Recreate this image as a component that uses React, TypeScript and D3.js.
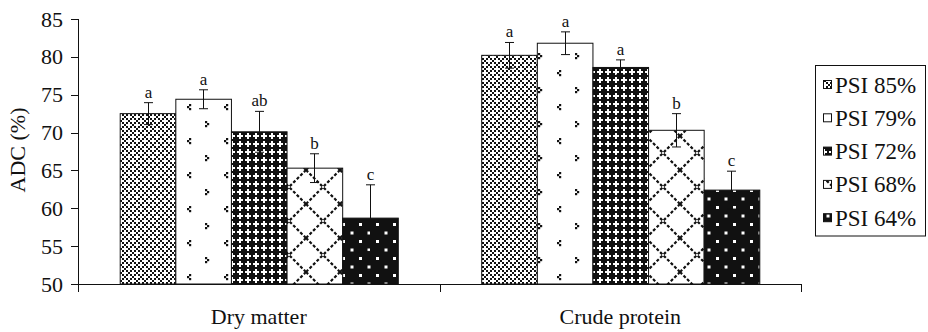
import React from "react";
import * as d3 from "d3";

const categories = ["Dry matter", "Crude protein"];
const series = ["PSI 85%", "PSI 79%", "PSI 72%", "PSI 68%", "PSI 64%"];
const dryMatter = [72.5, 74.4, 70.1, 65.3, 58.7];
const dryMatterErr = [1.45, 1.25, 2.7, 1.9, 4.4];
const crudeProtein = [80.2, 81.8, 78.6, 70.3, 62.4];
const crudeProteinErr = [1.7, 1.5, 1.0, 2.2, 2.5];
const dryMatterLetters = ["a", "a", "ab", "b", "c"];
const crudeProteinLetters = ["a", "a", "a", "b", "c"];
const yTicks = [50, 55, 60, 65, 70, 75, 80, 85];

const width = 928;
const height = 332;
const txt = { fontFamily: '"Liberation Serif"' };

const patternIds = ["p85", "p79", "p72", "p68", "p64"];

function Patterns() {
  return (
    <defs>
      <pattern id="p85" width={8} height={8} patternUnits="userSpaceOnUse">
        <rect width={8} height={8} fill="#fff" />
        {[[0, 0], [2, 2], [4, 4], [6, 6], [6, 2], [2, 6]].map(([x, y], i) => (
          <rect key={i} x={x} y={y} width={2} height={2} fill="#111" />
        ))}
      </pattern>
      <pattern id="p79" width={37} height={34} patternUnits="userSpaceOnUse">
        <rect width={37} height={34} fill="#fff" />
        {/* "<" mark */}
        <rect x={4} y={2} width={2.2} height={2.2} fill="#111" />
        <rect x={2} y={4} width={2.2} height={2.2} fill="#111" />
        <rect x={4} y={6} width={2.2} height={2.2} fill="#111" />
        {/* ">" mark */}
        <rect x={20} y={19} width={2.2} height={2.2} fill="#111" />
        <rect x={22} y={21} width={2.2} height={2.2} fill="#111" />
        <rect x={20} y={23} width={2.2} height={2.2} fill="#111" />
      </pattern>
      <pattern id="p72" width={8} height={8} patternUnits="userSpaceOnUse">
        <rect width={8} height={8} fill="#fff" />
        <rect x={3} y={0} width={2} height={8} fill="#111" />
        <rect x={0} y={3} width={8} height={2} fill="#111" />
        <rect x={1} y={1} width={2} height={2} fill="#111" />
        <rect x={5} y={5} width={2} height={2} fill="#111" />
        <rect x={5} y={1} width={2} height={2} fill="#111" />
        <rect x={1} y={5} width={2} height={2} fill="#111" />
      </pattern>
      <pattern id="p68" width={34} height={34} patternUnits="userSpaceOnUse">
        <rect width={34} height={34} fill="#fff" />
        <path d="M0,0L34,34M34,0L0,34" stroke="#111" strokeWidth={2.2} strokeDasharray="3 2" />
      </pattern>
      <pattern id="p64" width={17} height={17} patternUnits="userSpaceOnUse">
        <rect width={17} height={17} fill="#111" />
        <rect x={2} y={2} width={3} height={3} fill="#fff" />
        <rect x={10.5} y={10.5} width={3} height={3} fill="#fff" />
      </pattern>
    </defs>
  );
}

export default function App() {
  const margin = { left: 78, right: 801, top: 19, bottom: 284 };

  const y = d3.scaleLinear().domain([50, 85]).range([margin.bottom, margin.top]);
  const x0 = d3.scaleBand().domain(categories).range([margin.left, margin.right]);
  const x1 = d3
    .scaleBand()
    .domain(series)
    .range([0, x0.bandwidth()])
    .paddingInner(0)
    .paddingOuter(0.75);

  const groups = [
    { cat: categories[0], values: dryMatter, errs: dryMatterErr, letters: dryMatterLetters },
    { cat: categories[1], values: crudeProtein, errs: crudeProteinErr, letters: crudeProteinLetters },
  ];

  const xTicks = [margin.left, ...categories.map((c) => (x0(c) as number) + x0.bandwidth())];

  return (
    <svg width={width} height={height} style={{ position: "absolute", left: 0, top: 0, background: "#fff" }}>
      <Patterns />

      {/* bars */}
      {groups.map((g) =>
        g.values.map((v, i) => {
          const bx = (x0(g.cat) as number) + (x1(series[i]) as number);
          return (
            <rect
              key={g.cat + i}
              x={bx + 0.5}
              y={y(v)}
              width={x1.bandwidth()}
              height={y(50) - y(v)}
              fill={`url(#${patternIds[i]})`}
              stroke="#111"
              strokeWidth={1}
            />
          );
        })
      )}

      {/* error bars and letters */}
      {groups.map((g) =>
        g.values.map((v, i) => {
          const cx = Math.round((x0(g.cat) as number) + (x1(series[i]) as number) + x1.bandwidth() / 2) + 0.5;
          const top = y(v + g.errs[i]);
          const bot = y(v - g.errs[i]);
          return (
            <g key={"e" + g.cat + i}>
              <g stroke="#111" strokeWidth={1}>
                <line x1={cx} x2={cx} y1={top} y2={bot} />
                <line x1={cx - 4.5} x2={cx + 4.5} y1={top} y2={top} />
                <line x1={cx - 4.5} x2={cx + 4.5} y1={bot} y2={bot} />
              </g>
              <text x={cx} y={top - 5} textAnchor="middle" fontSize={17} fill="#111" style={txt}>
                {g.letters[i]}
              </text>
            </g>
          );
        })
      )}

      {/* y axis */}
      <line x1={margin.left + 0.5} x2={margin.left + 0.5} y1={margin.top} y2={margin.bottom + 8} stroke="#111" />
      {yTicks.map((t) => (
        <g key={t}>
          <line x1={71} x2={margin.left} y1={Math.round(y(t)) + 0.5} y2={Math.round(y(t)) + 0.5} stroke="#111" />
          <text x={63} y={y(t) + 7.5} textAnchor="end" fontSize={22} fill="#111" style={txt}>
            {t}
          </text>
        </g>
      ))}
      <text transform="translate(25,150) rotate(-90)" textAnchor="middle" fontSize={22} fill="#111" style={txt}>
        ADC (%)
      </text>

      {/* x axis */}
      <line x1={71} x2={margin.right} y1={margin.bottom + 0.5} y2={margin.bottom + 0.5} stroke="#111" />
      {xTicks.map((t, i) => (
        <line key={i} x1={Math.round(t) + 0.5} x2={Math.round(t) + 0.5} y1={margin.bottom} y2={margin.bottom + 8} stroke="#111" />
      ))}
      {categories.map((c) => (
        <text
          key={c}
          x={(x0(c) as number) + x0.bandwidth() / 2}
          y={324}
          textAnchor="middle"
          fontSize={22}
          fill="#111"
          style={txt}
        >
          {c}
        </text>
      ))}

      {/* legend */}
      <rect x={815.5} y={65.5} width={110} height={170.5} fill="#fff" stroke="#111" />
      {series.map((s, i) => {
        const ly = 85 + i * 33.3;
        return (
          <g key={s}>
            <rect x={823.5} y={ly - 4.5} width={8} height={8} fill={`url(#${patternIds[i]})`} stroke="#111" />
            <text x={835} y={ly + 7.5} fontSize={23} fill="#111" style={txt}>
              {s}
            </text>
          </g>
        );
      })}
    </svg>
  );
}
